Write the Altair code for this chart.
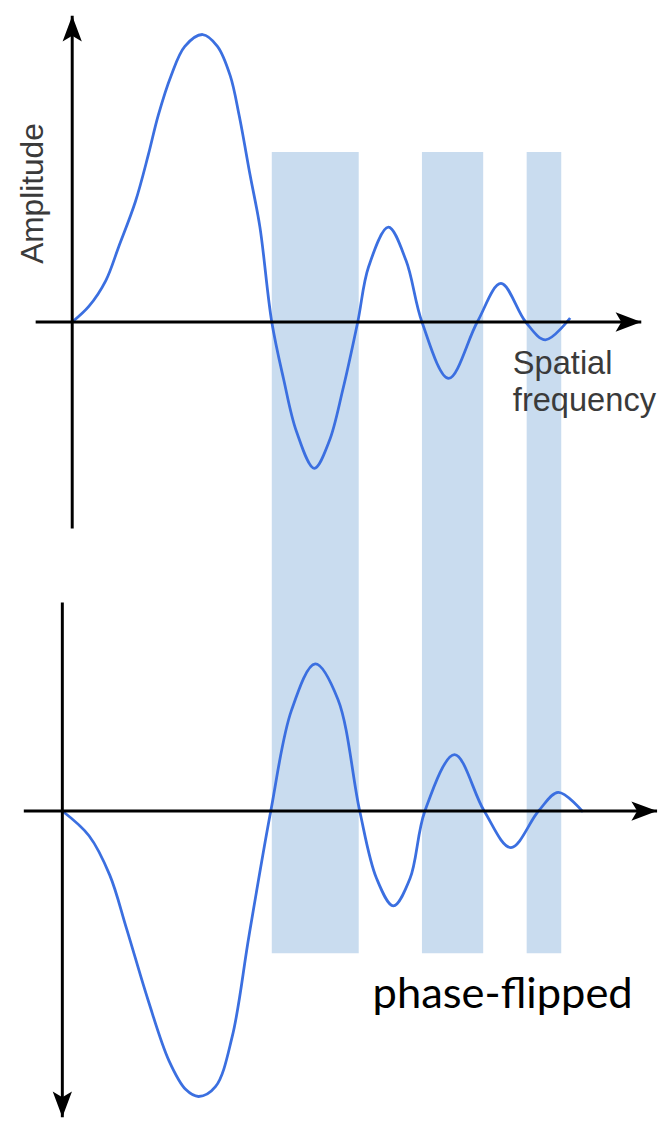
import altair as alt
import pandas as pd

# ---- data (arbitrary frequency units, amplitude normalised) ----
top_freq = [0.0, 1.7, 3.4, 4.7, 6.4, 7.7, 8.7, 10.0, 11.4, 13.2, 14.7, 16.0, 16.9,
            18.0, 19.0, 20.2, 21.4, 22.7, 24.5, 26.0, 27.4, 28.9, 30.0, 32.0, 33.8,
            35.4, 38.1, 41.0, 43.4, 45.9, 47.9, 50.4]
top_amp = [0.0, 0.055, 0.144, 0.261, 0.419, 0.581, 0.718, 0.856, 0.959, 1.0, 0.959,
           0.856, 0.718, 0.512, 0.330, 0.0, -0.199, -0.381, -0.509, -0.416, -0.234,
           0.0, 0.192, 0.330, 0.213, 0.0, -0.196, 0.0, 0.134, 0.0, -0.062, 0.014]

bottom_freq = [-1.0, 1.7, 3.8, 5.5, 7.7, 9.8, 11.5, 12.8, 14.5, 16.2, 17.9, 20.1,
               22.2, 24.6, 26.9, 29.1, 30.8, 32.5, 34.2, 35.7, 38.7, 41.7, 44.4,
               47.2, 49.2, 51.7]
bottom_amp = [0.0, -0.086, -0.223, -0.409, -0.660, -0.869, -0.969, -0.993, -0.959,
              -0.784, -0.433, 0.0, 0.351, 0.512, 0.388, 0.0, -0.234, -0.330, -0.234,
              0.0, 0.196, 0.0, -0.127, 0.0, 0.065, -0.003]

band_start = [20.2, 35.4, 46.0]
band_end = [29.0, 41.6, 49.5]

x_label = "Spatial\nfrequency"
y_label = "Amplitude"
band_label = "phase-flipped"

# axis extents (frequency range of horizontal axes, amplitude range of vertical axes)
top_haxis = [-3.7, 57.6]
top_vaxis = [-0.718, 1.065]
top_vaxis_at = 0.0
bottom_haxis = [-4.9, 59.2]
bottom_vaxis = [-1.065, 0.725]
bottom_vaxis_at = -1.0

# ---- layout / style ----
W, H = 655, 1112
OFFSET = 495  # vertical shift of the lower panel (px)
X = alt.Scale(domain=[-6.5, 59.0], nice=False, zero=False)
Y = alt.Scale(domain=[-2.7526, 1.0687], nice=False, zero=False)
CURVE = "#3b6fe0"
BAND = "#c9dcef"
ARROW = "M0,0 L-2,-0.75 L-1.55,0 L-2,0.75 Z"
ARROW_SIZE = 676


def xq(f):
    return alt.X(f, type="quantitative", scale=X, axis=None)


def yq(f):
    return alt.Y(f, type="quantitative", scale=Y, axis=None)


bands = alt.Chart(pd.DataFrame({"start": band_start, "end": band_end})).mark_rect(
    color=BAND
).encode(x=xq("start"), x2="end", y=alt.value(139), y2=alt.value(950))

top_curve = alt.Chart(pd.DataFrame({"f": top_freq, "a": top_amp})).mark_line(
    color=CURVE, strokeWidth=2.8, interpolate="catmull-rom"
).encode(x=xq("f"), y=yq("a"), order="f:Q")

bottom_curve = alt.Chart(pd.DataFrame({"f": bottom_freq, "a": bottom_amp})).mark_line(
    color=CURVE, strokeWidth=2.8, interpolate="catmull-rom", yOffset=OFFSET
).encode(x=xq("f"), y=yq("a"), order="f:Q")


def haxis(ext, off):
    df = pd.DataFrame({"x": [ext[0]], "x2": [ext[1]], "y": [0.0]})
    kw = {"yOffset": off} if off else {}
    line = alt.Chart(df).mark_rule(color="black", strokeWidth=3, **kw).encode(
        x=xq("x"), x2="x2", y=yq("y"))
    head = alt.Chart(df).mark_point(shape=ARROW, size=ARROW_SIZE, filled=True,
                                    color="black", opacity=1, **kw).encode(
        x=xq("x2"), y=yq("y"))
    return line + head


def vaxis(at, ext, off, up):
    df = pd.DataFrame({"x": [at], "y": [ext[0]], "y2": [ext[1]],
                       "tip": [ext[1] if up else ext[0]]})
    kw = {"yOffset": off, "y2Offset": off} if off else {}
    line = alt.Chart(df).mark_rule(color="black", strokeWidth=3, **kw).encode(
        x=xq("x"), y=yq("y"), y2="y2")
    hk = {"yOffset": off} if off else {}
    head = alt.Chart(df).mark_point(shape=ARROW, size=ARROW_SIZE, filled=True,
                                    color="black", opacity=1,
                                    angle=270 if up else 90, **hk).encode(
        x=xq("x"), y=yq("tip"))
    return line + head


lbl = pd.DataFrame({"t": [0]})
amp_text = alt.Chart(lbl).mark_text(
    text=y_label, font="Liberation Sans", fontSize=32, color="#3a3a3a",
    angle=270, align="center", baseline="alphabetic"
).encode(x=alt.value(35), y=alt.value(181))

freq_text = alt.Chart(lbl).mark_text(
    text=x_label, lineBreak="\n", font="Liberation Sans", fontSize=33,
    color="#3a3a3a", align="left", baseline="alphabetic", lineHeight=37
).encode(x=alt.value(511), y=alt.value(364))

band_text = alt.Chart(lbl).mark_text(
    text=band_label, font="Lato", fontSize=44, color="black",
    align="left", baseline="alphabetic"
).encode(x=alt.value(369), y=alt.value(1005))

chart = alt.layer(
    bands,
    top_curve,
    bottom_curve,
    haxis(top_haxis, 0),
    vaxis(top_vaxis_at, top_vaxis, 0, True),
    haxis(bottom_haxis, OFFSET),
    vaxis(bottom_vaxis_at, bottom_vaxis, OFFSET, False),
    amp_text,
    freq_text,
    band_text,
).properties(
    width=W, height=H,
    autosize=alt.AutoSizeParams(type="none"),
    padding={"left": 0, "top": 0, "right": 8, "bottom": 8},
).configure_view(stroke=None)

chart.save("out.html", embed_options={"renderer": "svg", "actions": False})
